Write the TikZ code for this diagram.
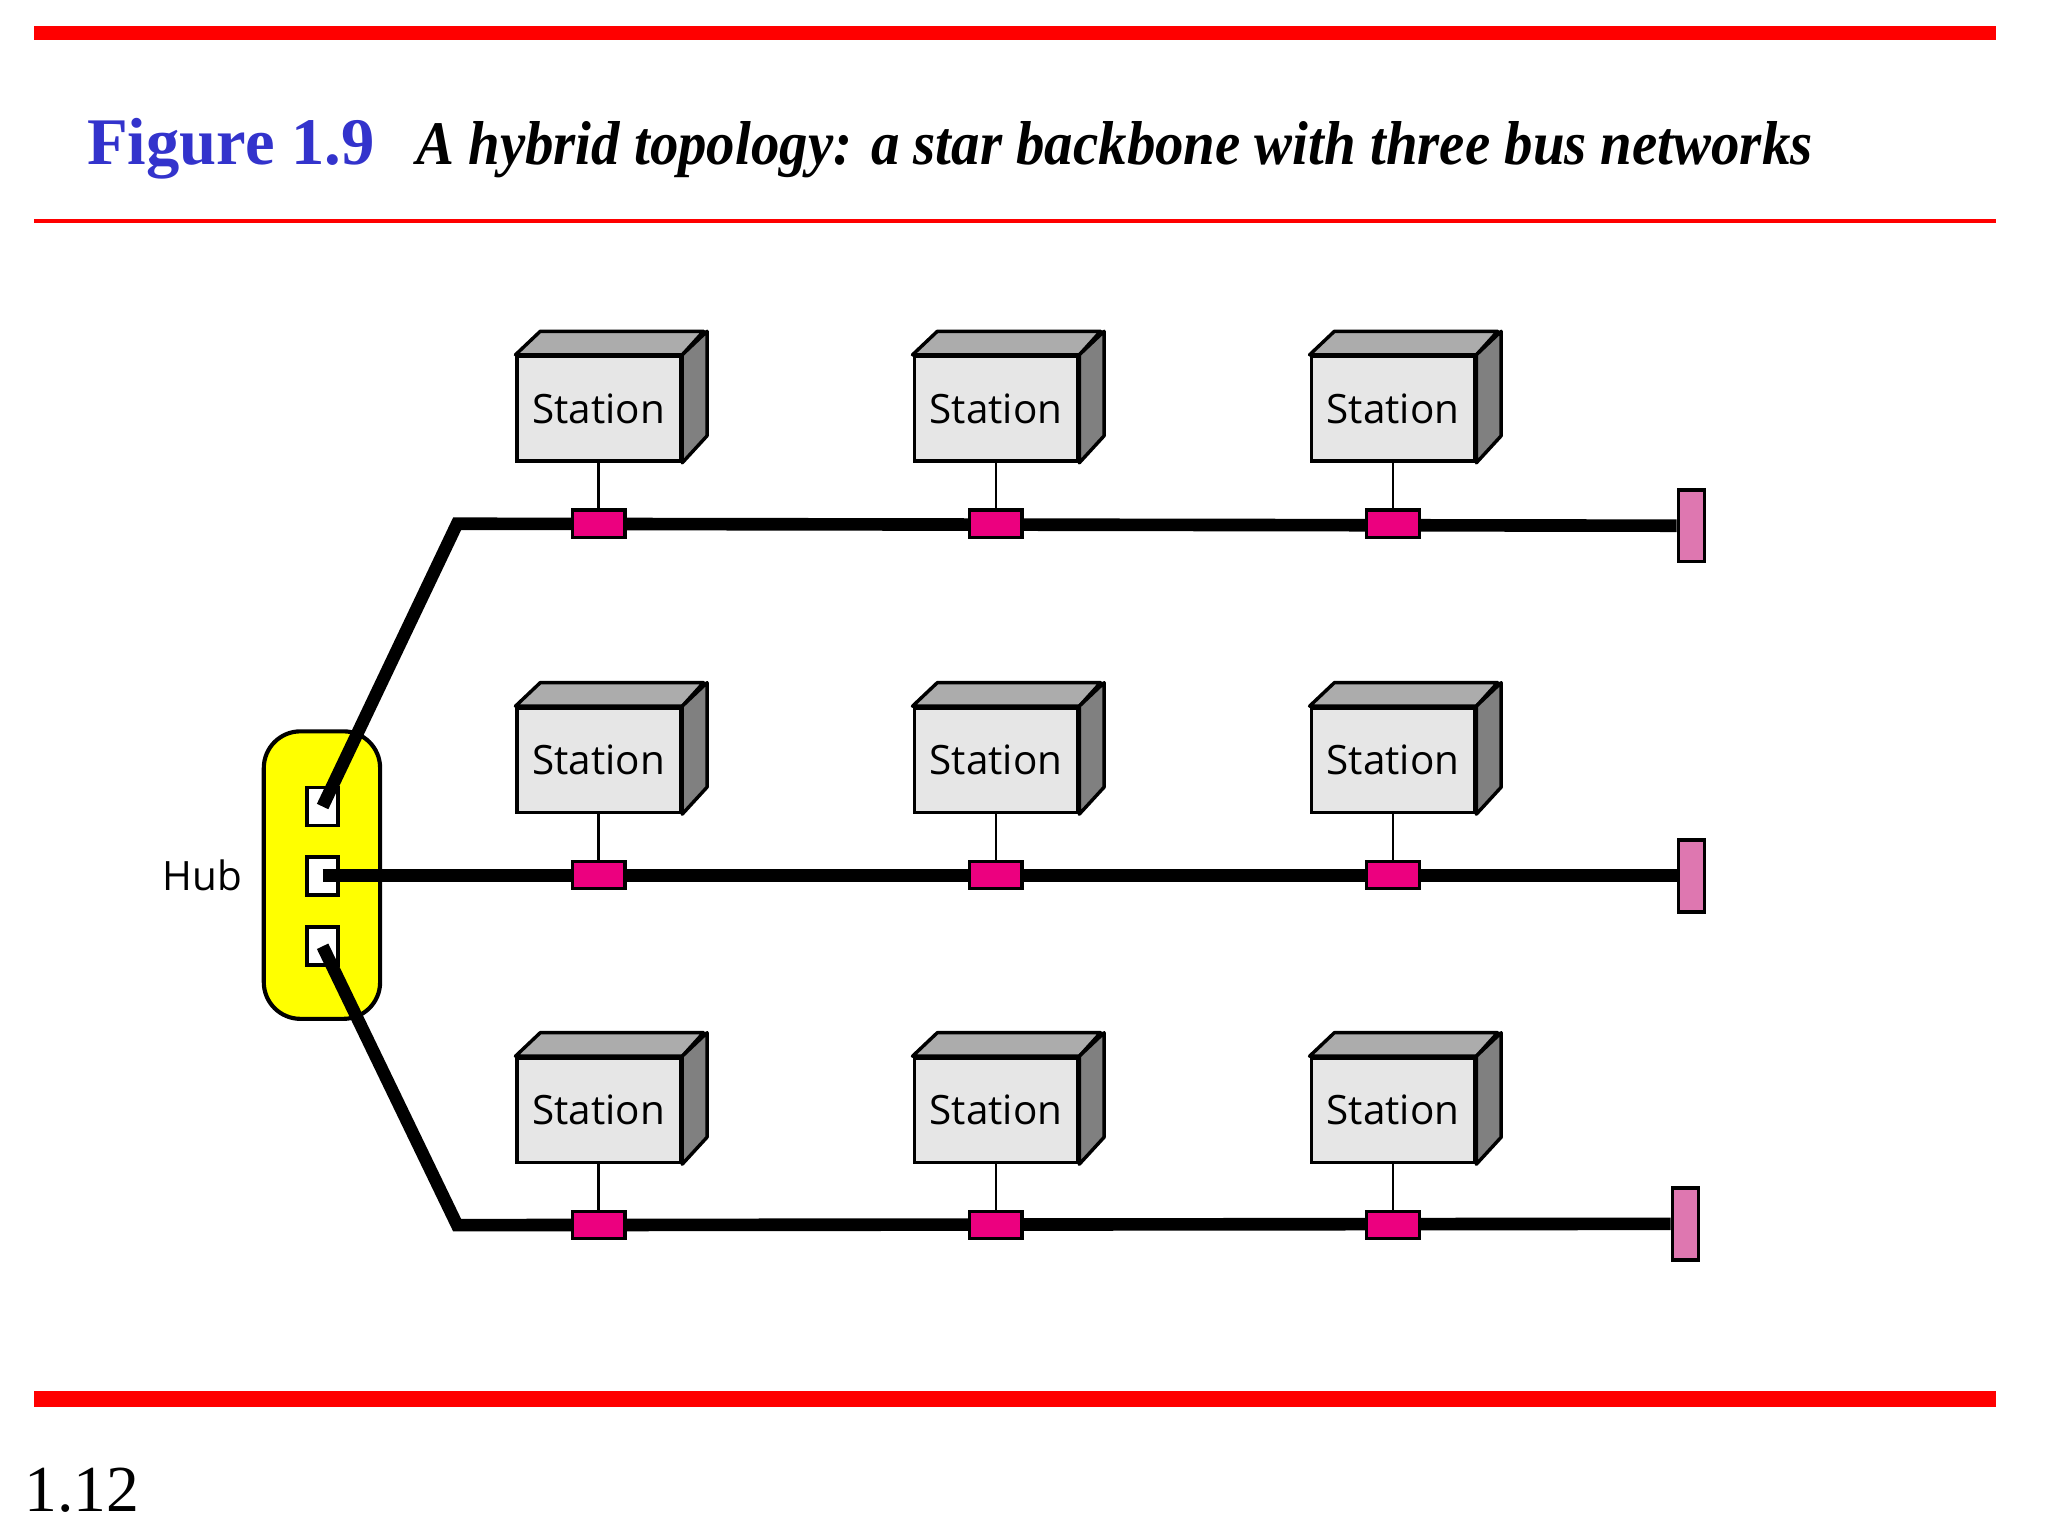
\documentclass[tikz,border=0pt]{standalone}
\usepackage{fontspec}
\setmainfont{Liberation Serif}
\newfontfamily\stfont{Open Sans}
\definecolor{slidered}{RGB}{255,0,0}
\definecolor{titleblue}{RGB}{51,51,204}
\definecolor{frontgray}{RGB}{230,230,230}
\definecolor{topgray}{RGB}{172,172,172}
\definecolor{sidegray}{RGB}{128,128,128}
\definecolor{tappink}{RGB}{236,0,127}
\definecolor{termpink}{RGB}{222,119,176}
\definecolor{hubyellow}{RGB}{255,255,0}
\tikzset{
  stationbox/.style={draw=black, line width=0.75pt, fill=frontgray, minimum width=1.25cm, minimum height=0.8cm, inner sep=0pt, font=\stfont\fontsize{8.8}{10}\selectfont},
  topface/.style={draw=black, line width=0.75pt, fill=topgray, line join=round},
  sideface/.style={draw=black, line width=0.75pt, fill=sidegray, line join=round},
  tapbox/.style={draw=black, line width=0.7pt, fill=tappink, minimum width=0.4cm, minimum height=0.21cm, inner sep=0pt},
  termbox/.style={draw=black, line width=0.8pt, fill=termpink, minimum width=0.2cm, minimum height=0.55cm, inner sep=0pt},
  portbox/.style={draw=black, line width=0.8pt, fill=white, minimum width=0.24cm, minimum height=0.29cm, inner sep=0pt},
  hubbox/.style={draw=black, line width=0.9pt, fill=hubyellow, rounded corners=0.28cm, minimum width=0.89cm, minimum height=2.2cm, inner sep=0pt},
  busline/.style={line width=2.75pt, black, line join=miter},
  dropline/.style={line width=0.6pt, black},
}
\begin{document}
\begin{tikzpicture}[x=0.01cm, y=-0.01cm]
\useasboundingbox (0,0) rectangle (1568,1176);
% rules
\fill[slidered] (26,20) rectangle (1528,31);
\fill[slidered] (26,168) rectangle (1528,171);
\fill[slidered] (26,1065) rectangle (1528,1077);
% title
\node[anchor=base west, inner sep=0pt, text=titleblue, font=\bfseries\fontsize{14.5}{16}\selectfont] (fig) at (66,126) {Figure 1.9};
\node[anchor=base west, inner sep=0pt, font=\bfseries\itshape\fontsize{13.5}{16}\selectfont] (cap) at (318,126) {\scalebox{0.917}[1]{A hybrid topology: a star backbone with three bus networks}};
\node[anchor=base west, inner sep=0pt, font=\fontsize{14.3}{17}\selectfont] (pg) at (18,1157) {1.12};
% hub
\node[hubbox] (hub) at (246.5,670) {};
\node[anchor=east, inner sep=0pt, font=\stfont\fontsize{8.8}{10}\selectfont] (hublbl) at (186,670) {Hub};
\node[portbox] (p1) at (247,617.5) {};
\node[portbox] (p2) at (247,670.5) {};
\node[portbox] (p3) at (247,724.5) {};
% corners and terminators
\coordinate (k1) at (350,401);
\coordinate (k3) at (350,938);
\node[termbox] (t1) at (1295,402.5) {};
\node[termbox] (t2) at (1295,670.5) {};
\node[termbox] (t3) at (1290.5,937) {};
% buses
\draw[busline] (p1.center) -- (k1) -- (t1.west);
\draw[busline] (p2.center) -- (t2.west);
\draw[busline] (p3.center) -- (k3) -- (t3.west);
\node[termbox] at (t1) {};
\node[termbox] at (t2) {};
\node[termbox] at (t3) {};
% stations
\foreach \r/\yb in {1/401, 2/670, 3/938} {
  \foreach \c/\xl in {1/396, 2/700, 3/1004} {
    \node[stationbox] (s\r\c) at (\xl+62.5, \yb-88) {Station};
    \draw[topface] (s\r\c.north west) -- ++(19,-18) -- ++(125,0) -- (s\r\c.north east) -- cycle;
    \draw[sideface] (s\r\c.north east) -- ++(19,-18) -- ++(0,80) -- (s\r\c.south east) -- cycle;
    \node[tapbox] (c\r\c) at (\xl+62.5, \yb) {};
    \draw[dropline] (s\r\c.south) -- (c\r\c.north);
  }
}
\end{tikzpicture}
\end{document}
